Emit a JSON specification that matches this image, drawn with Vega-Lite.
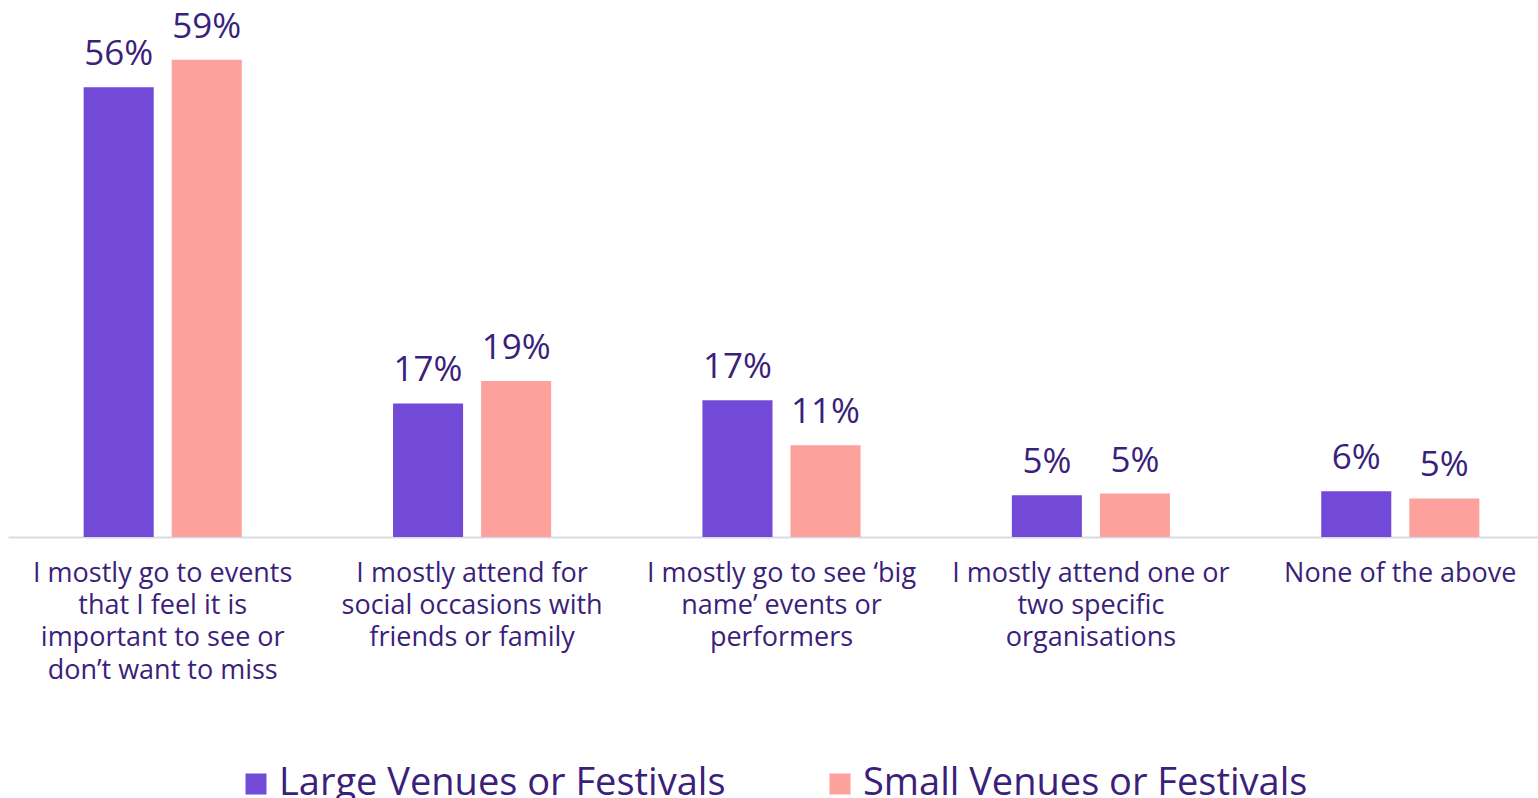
{
  "$schema": "https://vega.github.io/schema/vega-lite/v6.json",
  "width": 1530,
  "height": 523,
  "autosize": {"type": "none"},
  "padding": {"left": 8, "top": 14, "right": 0, "bottom": 261},
  "background": "white",
  "config": {
    "view": {"stroke": null},
    "font": "Open Sans"
  },
  "data": {
    "values": [
      {"cat": "I mostly go to events|that I feel it is|important to see or|don’t want to miss", "series": "Large Venues or Festivals", "value": 0.559},
      {"cat": "I mostly go to events|that I feel it is|important to see or|don’t want to miss", "series": "Small Venues or Festivals", "value": 0.593},
      {"cat": "I mostly attend for|social occasions with|friends or family", "series": "Large Venues or Festivals", "value": 0.166},
      {"cat": "I mostly attend for|social occasions with|friends or family", "series": "Small Venues or Festivals", "value": 0.194},
      {"cat": "I mostly go to see ‘big|name’ events or|performers", "series": "Large Venues or Festivals", "value": 0.170},
      {"cat": "I mostly go to see ‘big|name’ events or|performers", "series": "Small Venues or Festivals", "value": 0.114},
      {"cat": "I mostly attend one or|two specific|organisations", "series": "Large Venues or Festivals", "value": 0.052},
      {"cat": "I mostly attend one or|two specific|organisations", "series": "Small Venues or Festivals", "value": 0.054},
      {"cat": "None of the above", "series": "Large Venues or Festivals", "value": 0.057},
      {"cat": "None of the above", "series": "Small Venues or Festivals", "value": 0.048}
    ]
  },
  "encoding": {
    "x": {
      "field": "cat",
      "type": "nominal",
      "sort": null,
      "title": null,
      "scale": {"range": [0, 1547], "paddingInner": 0, "paddingOuter": 0},
      "axis": {
        "labelExpr": "split(datum.label, '|')",
        "labelAngle": 0,
        "labelFontSize": 27,
        "labelLineHeight": 32.4,
        "labelColor": "#3B1F7A",
        "labelPadding": 23,
        "labelBaseline": "top",
        "labelLimit": 400,
        "ticks": false,
        "domainColor": "#D6DCE4",
        "domainWidth": 2,
        "grid": false
      }
    },
    "xOffset": {
      "field": "series",
      "type": "nominal",
      "sort": ["Large Venues or Festivals", "Small Venues or Festivals"],
      "scale": {"paddingInner": 0.2045, "paddingOuter": 0.859}
    },
    "y": {
      "field": "value",
      "type": "quantitative",
      "scale": {"domain": [0, 0.65]},
      "axis": null
    }
  },
  "layer": [
    {
      "mark": {"type": "bar"},
      "encoding": {
        "color": {
          "field": "series",
          "type": "nominal",
          "scale": {
            "domain": ["Large Venues or Festivals", "Small Venues or Festivals"],
            "range": ["#7349D7", "#FCA19C"]
          },
          "legend": {
            "title": null,
            "orient": "none",
            "direction": "horizontal",
            "legendX": 229,
            "legendY": 751,
            "symbolType": "square",
            "symbolSize": 441,
            "symbolStrokeWidth": 0,
            "labelFontSize": 38,
            "labelColor": "#3B1F7A",
            "labelOffset": 4,
            "labelLimit": 700,
            "columnPadding": 95
          }
        }
      }
    },
    {
      "mark": {"type": "text", "baseline": "alphabetic", "dy": -22, "fontSize": 35, "color": "#3B1F7A"},
      "encoding": {
        "text": {"field": "value", "type": "quantitative", "format": ".0%"}
      }
    }
  ]
}
